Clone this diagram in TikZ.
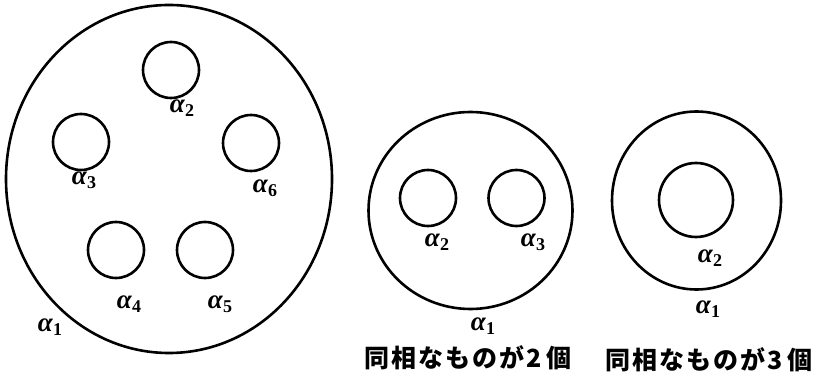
\documentclass[tikz,border=0pt]{standalone}
\usepackage{fontspec}
\newfontfamily\cjk[LetterSpace=8]{Noto Sans CJK JP}
\newfontfamily\grk{Liberation Serif}
\usetikzlibrary{shapes.geometric}
\newcommand{\alab}[1]{{\grk\fontsize{27}{29}\selectfont\bfseries\itshape α}\kern0.5pt\raisebox{-4pt}{\grk\fontsize{18}{20}\selectfont\bfseries #1}}
\begin{document}
\begin{tikzpicture}[x=1pt,y=-1pt,
  ring/.style={draw,line width=2.6pt,ellipse,inner sep=0pt},
  hole/.style={draw,line width=2.6pt,circle,inner sep=0pt,minimum size=56pt},
  lab/.style={inner sep=0pt},
  captext/.style={inner sep=0pt,font=\cjk\fontsize{25}{28}\selectfont\bfseries}]
\useasboundingbox (0,0) rectangle (816,379);
% left
\node[ring,minimum width=326pt,minimum height=348pt] (A1) at (169,179) {};
\node[hole] (A2) at (171,70) {};
\node[hole] (A3) at (81,142) {};
\node[hole] (A6) at (251,143) {};
\node[hole] (A4) at (116,250) {};
\node[hole] (A5) at (205,250) {};
\node[lab] (LA2) at (182,108) {\alab{2}};
\node[lab] (LA3) at (84,180) {\alab{3}};
\node[lab] (LA6) at (265,188) {\alab{6}};
\node[lab] (LA4) at (129,304) {\alab{4}};
\node[lab] (LA5) at (220,304) {\alab{5}};
\node[lab] (LA1) at (50,327) {\alab{1}};
% middle
\node[ring,minimum width=204pt,minimum height=197pt] (B1) at (470.5,210.5) {};
\node[hole] (B2) at (428,198) {};
\node[hole] (B3) at (516.5,198) {};
\node[lab] (LB2) at (437,242) {\alab{2}};
\node[lab] (LB3) at (533,242) {\alab{3}};
\node[lab] (LB1) at (483,326) {\alab{1}};
\node[captext] (CB) at (468,358) {同相なものが2\,個};
% right
\node[ring,minimum width=169pt,minimum height=178pt] (C1) at (696.5,200.5) {};
\node[hole,minimum size=74pt] (C2) at (696,200) {};
\node[lab] (LC2) at (710,258) {\alab{2}};
\node[lab] (LC1) at (708,309) {\alab{1}};
\node[captext] (CC) at (709,360) {同相なものが3\,個};
\end{tikzpicture}
\end{document}
